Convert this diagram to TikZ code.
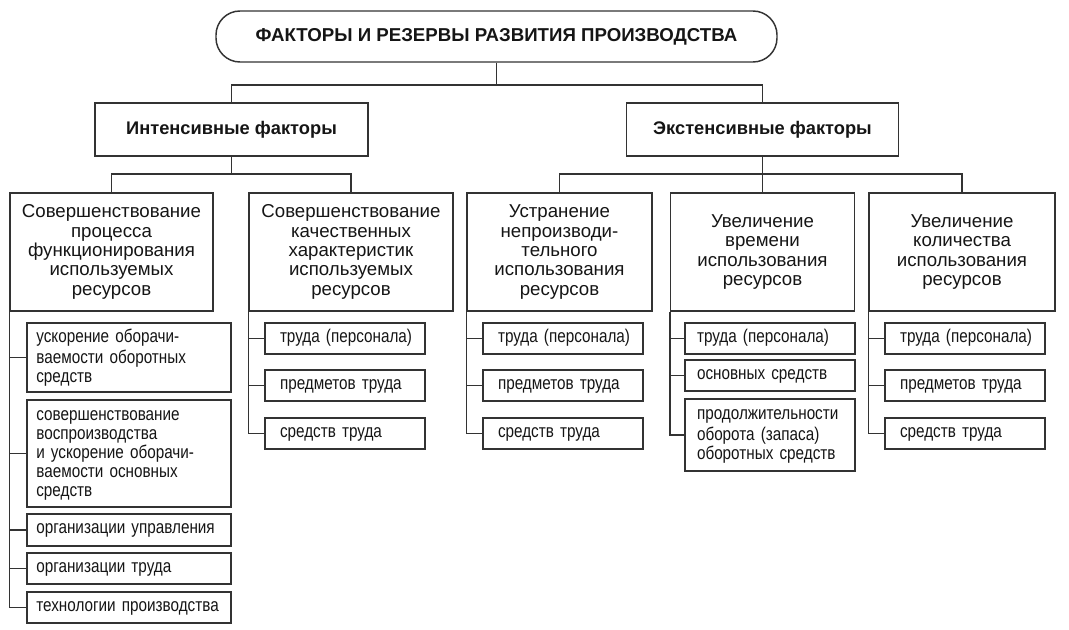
\documentclass[tikz,border=0pt]{standalone}
\usepackage{fontspec}
\setmainfont{Liberation Sans}
\newfontfamily\condfont[FakeStretch=0.83]{Liberation Sans}
\usetikzlibrary{positioning}
\definecolor{colorln}{HTML}{333333}
\definecolor{colortx}{HTML}{151515}
\tikzset{
  boxtitle/.style={draw=colorln, line width=1.1pt, text=colortx, rounded corners=18pt,
    minimum width=420.75pt, minimum height=38.25pt, font=\fontsize{14}{14.5}\selectfont\bfseries},
  boxgroup/.style={draw=colorln, line width=1.1pt, text=colortx, minimum width=204.75pt,
    minimum height=39.75pt, font=\fontsize{13.7}{14.5}\selectfont\bfseries},
  boxcat/.style={draw=colorln, line width=1.1pt, text=colortx, minimum height=88.5pt,
    align=center, font=\fontsize{14}{14.5}\selectfont},
  boxitem/.style={draw=colorln, line width=1.1pt, text=colortx, align=left, inner ysep=2pt,
    minimum height=23.25pt, font=\condfont\fontsize{13.8}{14.25}\selectfont,
    execute at begin node=\strut},
  itemwide/.style={boxitem, text width=139pt, inner xsep=7pt},
  itemnarrow/.style={boxitem, text width=97.5pt, inner xsep=11.25pt},
  itemmid/.style={boxitem, text width=109.5pt, inner xsep=9pt},
  edgeln/.style={colorln, line width=1.1pt}
}

\begin{document}
\begin{tikzpicture}[x=0.75pt, y=-0.75pt]
\useasboundingbox (0,0) rectangle (1069,630);
% top level
\node[boxtitle] (title) at (496.5,36.5) {ФАКТОРЫ И РЕЗЕРВЫ РАЗВИТИЯ ПРОИЗВОДСТВА};
\node[boxgroup] (intf) at (231.5,129.5) {Интенсивные факторы};
\node[boxgroup, minimum width=204pt] (extf) at (762.5,129.5) {Экстенсивные факторы};
% factor groups
\node[boxcat, minimum width=152.25pt] (cat1) at (111.5,252) {Совершенствование\\процесса\\функционирования\\используемых\\ресурсов};
\node[boxcat, minimum width=153pt] (cat2) at (351,252) {Совершенствование\\качественных\\характеристик\\используемых\\ресурсов};
\node[boxcat, minimum width=138.75pt] (cat3) at (559.5,252) {Устранение\\непроизводи-\\тельного\\использования\\ресурсов};
\node[boxcat, minimum width=138pt] (cat4) at (762.5,252) {Увеличение\\времени\\использования\\ресурсов};
\node[boxcat, minimum width=139.5pt] (cat5) at (962,252) {Увеличение\\количества\\использования\\ресурсов};
% items
\node[itemwide, minimum height=51.75pt] (a1) at (129,357.5) {ускорение~оборачи-\\ваемости~оборотных\\средств};
\node[itemwide, minimum height=80.25pt] (a2) at (129,453.5) {совершенствование\\воспроизводства\\и~ускорение~оборачи-\\ваемости~основных\\средств};
\node[itemwide, minimum height=24pt] (a3) at (129,530) {организации~управления};
\node[itemwide] (a4) at (129,568.5) {организации~труда};
\node[itemwide] (a5) at (129,607.5) {технологии~производства};
\node[itemnarrow] (b1) at (345,338.5) {труда~(персонала)};
\node[itemnarrow] (b2) at (345,385.5) {предметов~труда};
\node[itemnarrow] (b3) at (345,433.5) {средств~труда};
\node[itemnarrow] (c1) at (563,338.5) {труда~(персонала)};
\node[itemnarrow] (c2) at (563,385.5) {предметов~труда};
\node[itemnarrow] (c3) at (563,433.5) {средств~труда};
\node[itemmid] (d1) at (770,338.5) {труда~(персонала)};
\node[itemmid] (d2) at (770,375.5) {основных~средств};
\node[itemmid, minimum height=54pt] (d3) at (770,435) {продолжительности\\оборота~(запаса)\\оборотных~средств};
\node[itemnarrow] (e1) at (965,338.5) {труда~(персонала)};
\node[itemnarrow] (e2) at (965,385.5) {предметов~труда};
\node[itemnarrow] (e3) at (965,433.5) {средств~труда};
% connectors
\coordinate (bus0) at (496.5,85);
\coordinate (bus1) at (231.5,174);
\coordinate (bus2) at (762.5,174);
\draw[edgeln] (title) -- (bus0) -| (intf);
\draw[edgeln] (bus0) -| (extf);
\draw[edgeln] (intf) -- (bus1) -| (cat1);
\draw[edgeln] (bus1) -| (cat2);
\draw[edgeln] (extf) -- (cat4);
\draw[edgeln] (bus2) -| (cat3);
\draw[edgeln] (bus2) -| (cat5);
\foreach \n in {a1,a2,a3,a4,a5}
  \draw[edgeln] (cat1.south west) |- (\n);
\foreach \n in {b1,b2,b3}
  \draw[edgeln] (cat2.south west) |- (\n);
\foreach \n in {c1,c2,c3}
  \draw[edgeln] (cat3.south west) |- (\n);
\foreach \n in {d1,d2,d3}
  \draw[edgeln] (cat4.south west) |- (\n);
\foreach \n in {e1,e2,e3}
  \draw[edgeln] (cat5.south west) |- (\n);
\end{tikzpicture}
\end{document}
